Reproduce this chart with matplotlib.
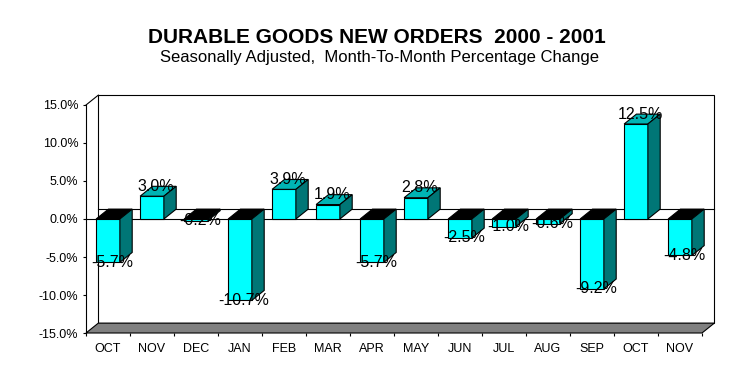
import numpy as np
import matplotlib.pyplot as plt
from matplotlib.patches import Polygon

months = ['OCT', 'NOV', 'DEC', 'JAN', 'FEB', 'MAR', 'APR',
          'MAY', 'JUN', 'JUL', 'AUG', 'SEP', 'OCT', 'NOV']
change = [-5.7, 3.0, -0.2, -10.7, 3.9, 1.9, -5.7,
          2.8, -2.5, -1.0, -0.6, -9.2, 12.5, -4.8]
yticks = [-15, -10, -5, 0, 5, 10, 15]

plt.rcParams['font.family'] = ['Liberation Sans', 'DejaVu Sans']

c_front = '#00ffff'   # bar front
c_top = '#00b4b4'     # top of positive bars
c_side = '#007676'    # right side of bars
c_floor = '#808080'
lw = 0.8

fig = plt.figure(figsize=(7.54, 3.79), dpi=100)
ax = fig.add_axes([86/754, 46/379, 616/754, 228/379])

n = len(months)
x = np.arange(n)
w = 0.54            # bar width
dx, dy = 0.28, 1.3  # depth offset (x in categories, y in %)
lo, hi = yticks[0], yticks[-1]
x0, x1 = -0.5, n - 0.5

def poly(pts, fc, z, **kw):
    ax.add_patch(Polygon(pts, closed=True, fc=fc, ec='black', lw=lw,
                         zorder=z, clip_on=False, **kw))

# back wall + floor
poly([(x0+dx, lo+dy), (x1+dx, lo+dy), (x1+dx, hi+dy), (x0+dx, hi+dy)], 'white', 0.5)
poly([(x0, lo), (x1, lo), (x1+dx, lo+dy), (x0+dx, lo+dy)], c_floor, 0.6)
ax.plot([x0, x0+dx], [hi, hi+dy], color='black', lw=lw, clip_on=False, zorder=0.7)

# zero plane
ax.plot([x0, x1], [0, 0], color='black', lw=lw, clip_on=False, zorder=0.8)
ax.plot([x0+dx, x1+dx], [dy, dy], color='black', lw=lw, clip_on=False, zorder=0.8)

# bars
for i, v in enumerate(change):
    z = 2 + i * 0.01
    a, b = x[i] - w/2, x[i] + w/2
    ax.bar(x[i], v, width=w, color=c_front, edgecolor='black', lw=lw, zorder=z)
    top = max(v, 0)
    poly([(a, top), (b, top), (b+dx, top+dy), (a+dx, top+dy)],
         c_top if v > 0 else 'black', z)
    poly([(b, 0), (b+dx, dy), (b+dx, v+dy), (b, v)], c_side, z)
    lbl = '%.1f%%' % v
    if v > 0:
        ax.text(x[i] + 0.09, v + dy, lbl, ha='center', va='center',
                fontsize=11.5, zorder=5)
    else:
        ax.text(x[i] + 0.09, v, lbl, ha='center', va='center',
                fontsize=11.5, zorder=5)

ax.set_xlim(x0, x1)
ax.set_ylim(lo, hi)
for s in ['top', 'right', 'bottom']:
    ax.spines[s].set_visible(False)
ax.spines['left'].set_linewidth(lw)
ax.spines['left'].set_zorder(1)
ax.patch.set_visible(False)

ax.set_yticks(yticks)
ax.set_yticklabels(['%.1f%%' % t for t in yticks], fontsize=9)
ax.tick_params(axis='y', length=2.5, width=lw, pad=3)

ax.set_xticks(x)
ax.set_xticklabels(months, fontsize=9)
ax.set_xticks(np.arange(n + 1) - 0.5, minor=True)
ax.tick_params(axis='x', which='major', length=0, pad=7)
ax.tick_params(axis='x', which='minor', length=2.5, width=lw)

fig.text(0.5, 1 - 43/379, 'DURABLE GOODS NEW ORDERS  2000 - 2001',
         ha='center', va='baseline', fontsize=15, fontweight='bold')
fig.text(0.503, 1 - 62/379, 'Seasonally Adjusted,  Month-To-Month Percentage Change',
         ha='center', va='baseline', fontsize=12)

fig.savefig('out.png', dpi=100)
